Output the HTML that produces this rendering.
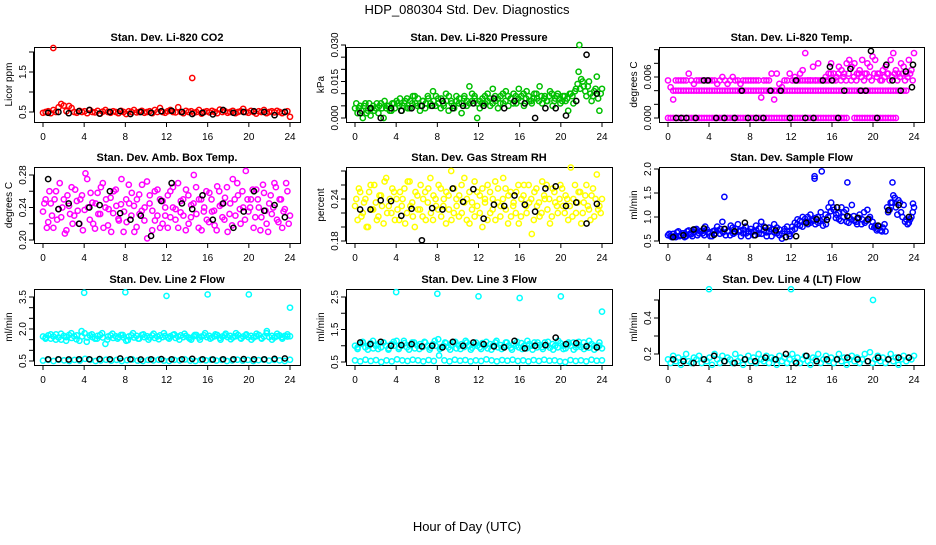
<!DOCTYPE html>
<html><head><meta charset="utf-8"><style>
html,body{margin:0;padding:0;background:#fff;}
svg text{font-family:"Liberation Sans",sans-serif;}
</style></head><body>
<svg id="chart" width="936" height="540" viewBox="0 0 936 540" xmlns="http://www.w3.org/2000/svg">
<rect width="936" height="540" fill="#fff"/>
<text x="467" y="14" text-anchor="middle" font-size="13">HDP_080304  Std. Dev. Diagnostics</text>
<text x="467" y="531" text-anchor="middle" font-size="13">Hour of Day (UTC)</text>
</svg>
<script>
const xTicks = [0,4,8,12,16,20,24];

const co2Red = [0.48,0.5,0.52,0.47,0.55,0.5,0.62,0.7,0.66,0.52,0.65,0.6,0.5,0.48,0.53,0.5,
0.52,0.47,0.55,0.5,0.49,0.53,0.46,0.51,0.55,0.5,0.48,0.52,0.5,0.47,0.53,0.5,
0.45,0.52,0.5,0.55,0.49,0.5,0.53,0.48,0.5,0.52,0.47,0.55,0.5,0.6,0.5,0.48,
0.52,0.55,0.5,0.49,0.62,0.5,0.47,0.53,0.5,0.52,0.48,0.5,0.55,0.46,0.5,0.52,
0.49,0.53,0.5,0.47,0.56,0.5,0.52,0.48,0.5,0.53,0.47,0.5,0.52,0.58,0.5,0.48,
0.53,0.5,0.46,0.52,0.5,0.55,0.47,0.5,0.52,0.49,0.53,0.5,0.47,0.5,0.52,0.38];
const co2RedOutX = [1.0,14.5];
const co2RedOutY = [2.1,1.35];
const co2Black = [0.48,0.5,0.47,0.52,0.55,0.46,0.5,0.52,0.45,0.5,0.48,0.52,0.53,0.5,0.45,0.48,0.44,0.55,0.48,0.5,0.52,0.5,0.42,0.5];

const presGreen = [0.004,0.002,0.005,0.0,0.006,0.003,0.001,0.005,0.004,0.002,0.006,0.0,0.004,0.005,0.003,0.006,
0.007,0.005,0.003,0.006,0.008,0.004,0.006,0.009,0.005,0.003,0.007,0.004,0.009,0.006,0.011,0.005,
0.008,0.004,0.006,0.01,0.003,0.007,0.005,0.009,0.006,0.002,0.008,0.005,0.013,0.007,0.009,0.0,
0.004,0.008,0.006,0.01,0.005,0.012,0.007,0.004,0.009,0.006,0.011,0.005,0.008,0.01,0.006,0.012,
0.009,0.005,0.011,0.007,0.006,0.01,0.008,0.013,0.006,0.009,0.007,0.011,0.005,0.008,0.01,0.006,
0.009,0.007,0.003,0.01,0.006,0.012,0.019,0.016,0.013,0.009,0.015,0.007,0.011,0.017,0.003,0.012];
const presGreenB = [0.006,0.004,0.003,0.005,0.002,0.006,0.004,0.003,0.006,0.005,0.004,0.007,0.005,0.003,0.006,0.004,
0.006,0.008,0.005,0.007,0.004,0.007,0.009,0.006,0.008,0.005,0.007,0.006,0.008,0.005,0.007,0.009,
0.006,0.008,0.005,0.007,0.009,0.006,0.004,0.007,0.008,0.006,0.009,0.007,0.006,0.01,0.008,0.006,
0.007,0.006,0.009,0.007,0.008,0.006,0.009,0.008,0.006,0.01,0.007,0.009,0.008,0.006,0.009,0.008,
0.007,0.01,0.008,0.009,0.007,0.008,0.01,0.007,0.009,0.008,0.007,0.009,0.01,0.007,0.009,0.008,
0.007,0.009,0.008,0.01,0.009,0.011,0.014,0.012,0.015,0.011,0.013,0.01,0.009,0.012,0.008,0.01];
const presOutX = [21.8];
const presOutY = [0.030];
const presBlack = [0.002,0.004,0.0,0.004,0.003,0.004,0.005,0.005,0.007,0.004,0.005,0.006,0.005,0.008,0.004,0.007,0.006,0.0,0.004,0.004,0.001,0.007,0.026,0.01];

const tempLow = [0,0,0,0,0,0,0,0,0,0,0,0,0,0,0,0,0,0,0,0,0,0,0,0,0,0,0,0,0,0,0,0,
0,0,0,0,0,0,0,0,0,0,0,0,0,0,0,0,0,0,0,0,0,0,0,0,0,0,0,0,0,0,0,0,
0,0,0,0,0,0,null,null,0,0,0,0,0,0,0,0,0,0,0,0,0,0,0,0,0,null,null,null,null,null,null,null];
const tempMid = [null,null,0.004,0.004,0.004,0.004,0.004,0.004,0.004,0.004,0.004,0.004,0.004,0.004,0.004,0.004,
0.004,0.004,0.004,0.004,0.004,0.004,0.004,0.004,0.004,0.004,0.004,0.004,0.004,0.004,0.004,0.004,
0.004,0.004,0.004,0.004,0.004,0.004,0.004,0.004,0.004,0.004,0.004,0.004,0.004,0.004,0.004,0.004,
0.004,0.004,0.004,0.004,0.004,0.004,0.004,0.004,0.004,0.004,0.004,0.004,0.004,0.004,0.004,0.004,
0.004,0.004,0.004,0.004,0.004,0.004,0.004,0.004,0.004,0.004,0.004,0.004,0.004,0.004,0.004,0.004,
0.004,0.004,0.004,0.004,0.004,0.004,0.004,0.004,0.004,0.004,0.004,0.004,0.004,null,null,null];
const tempHigh = [0.0055,0.0045,0.0027,0.0055,0.0055,0.0055,0.0055,0.0055,0.0065,0.0055,0.005,0.0055,0.0055,0.0055,0.0055,0.0055,
0.0055,0.0055,0.0055,0.005,0.0055,0.006,0.0055,0.005,0.0055,0.006,0.0055,0.0055,0.005,0.0055,0.0055,0.0055,
0.0055,0.0055,0.0055,0.0055,0.003,0.0055,0.0055,0.0055,0.0065,0.0027,0.0065,0.005,0.0045,0.0055,0.0055,0.0065,
0.0055,0.006,0.0055,0.0065,0.007,0.0095,0.0055,0.0055,0.0075,0.0055,0.008,0.0055,0.0055,0.0055,0.0065,0.008,
0.0065,0.006,0.0075,0.007,0.0065,0.008,0.0085,0.0075,0.008,0.0065,0.007,0.0085,0.0065,0.008,0.0075,0.009,
0.0085,0.0065,0.0055,0.007,0.0075,0.0065,0.0085,0.0095,0.007,0.0065,0.008,0.0075,0.0065,0.0085,0.007,0.0095];
const tempHigh2 = [null,null,null,null,null,null,null,null,null,null,null,null,null,null,null,null,
null,null,null,null,null,null,null,null,null,null,null,null,null,null,null,null,
null,null,null,null,null,null,null,null,null,null,null,null,null,null,null,null,
0.0055,0.0055,0.0055,0.0055,0.0055,0.0055,0.0055,0.0055,0.0055,0.0055,0.0055,0.0055,0.0055,0.006,0.0055,0.0065,
0.0055,0.0055,0.0065,0.0055,0.006,0.0055,0.0065,0.0055,0.006,0.0055,0.0065,0.006,0.0055,0.0065,0.006,0.0055,
0.0065,0.006,0.0065,0.0055,0.006,0.0065,0.0055,0.006,0.0065,0.0055,0.006,0.0065,0.0055,0.006,0.0065,0.0055];
const tempBlackX = [0.8,1.3,1.8,2.7,3.5,3.9,4.7,5.5,6.5,7.2,7.8,8.6,9.3,10.0,11.0,11.9,12.5,13.4,14.2,15.1,15.8,16.0,16.6,17.2,17.8,18.8,19.3,19.8,20.4,21.3,21.9,22.7,23.2,23.8,23.9];
const tempBlackY = [0,0,0,0,0.0055,0.0055,0,0,0,0.004,0,0,0,0.004,0.004,0,0.0055,0,0,0.0055,0.0075,0.0055,0,0.004,0.0072,0.004,0.004,0.0098,0,0.0078,0.0055,0.004,0.0068,0.0045,0.0078];

const ambA = [0.235,0.25,0.222,0.245,0.215,0.26,0.238,0.228,0.25,0.212,0.242,0.265,0.23,0.248,0.22,0.255,
0.237,0.275,0.225,0.246,0.214,0.258,0.232,0.27,0.24,0.218,0.252,0.233,0.262,0.226,0.244,0.21,
0.25,0.268,0.23,0.242,0.216,0.256,0.236,0.224,0.272,0.245,0.212,0.26,0.23,0.25,0.22,0.24,
0.255,0.228,0.265,0.238,0.215,0.248,0.23,0.262,0.22,0.243,0.28,0.232,0.25,0.212,0.24,0.225,
0.258,0.235,0.218,0.266,0.242,0.228,0.252,0.21,0.245,0.275,0.23,0.255,0.22,0.24,0.285,0.235,
0.25,0.215,0.262,0.24,0.228,0.258,0.22,0.245,0.232,0.27,0.225,0.25,0.215,0.238,0.26,0.23];
const ambB = [0.245,0.215,0.26,0.23,0.25,0.225,0.27,0.24,0.208,0.255,0.232,0.22,0.262,0.236,0.25,0.212,
0.282,0.24,0.258,0.22,0.245,0.232,0.265,0.215,0.25,0.238,0.21,0.26,0.242,0.224,0.275,0.235,
0.222,0.245,0.258,0.21,0.25,0.232,0.268,0.24,0.202,0.255,0.236,0.224,0.262,0.215,0.248,0.23,
0.215,0.26,0.24,0.225,0.27,0.234,0.25,0.212,0.255,0.228,0.245,0.265,0.215,0.25,0.235,0.26,
0.222,0.25,0.236,0.212,0.26,0.244,0.225,0.265,0.232,0.218,0.25,0.27,0.238,0.26,0.225,0.25,
0.24,0.262,0.228,0.25,0.212,0.268,0.236,0.21,0.255,0.24,0.265,0.222,0.25,0.235,0.27,0.22];
const ambBlack = [0.275,0.238,0.245,0.22,0.24,0.243,0.26,0.233,0.225,0.23,0.205,0.248,0.27,0.245,0.238,0.255,0.225,0.245,0.215,0.235,0.26,0.236,0.243,0.228];

const rhA = [0.23,0.21,0.25,0.22,0.24,0.2,0.26,0.225,0.235,0.215,0.245,0.205,0.27,0.23,0.22,0.25,
0.24,0.21,0.23,0.255,0.22,0.265,0.235,0.2,0.245,0.225,0.215,0.25,0.235,0.27,0.21,0.24,
0.225,0.255,0.23,0.205,0.245,0.28,0.22,0.24,0.215,0.26,0.235,0.21,0.25,0.225,0.265,0.23,
0.245,0.2,0.235,0.26,0.22,0.24,0.21,0.255,0.23,0.27,0.225,0.245,0.215,0.235,0.25,0.205,
0.24,0.26,0.22,0.235,0.19,0.25,0.23,0.215,0.265,0.24,0.225,0.205,0.255,0.235,0.22,0.26,
0.23,0.245,0.21,0.285,0.24,0.22,0.25,0.205,0.235,0.26,0.225,0.245,0.215,0.275,0.23,0.24];
const rhB = [0.24,0.255,0.215,0.235,0.2,0.25,0.225,0.26,0.21,0.245,0.23,0.265,0.22,0.24,0.255,0.21,
0.225,0.25,0.24,0.205,0.265,0.23,0.215,0.25,0.225,0.26,0.24,0.21,0.255,0.22,0.245,0.23,
0.26,0.215,0.24,0.25,0.225,0.21,0.255,0.23,0.245,0.22,0.27,0.24,0.205,0.235,0.215,0.25,
0.22,0.255,0.24,0.21,0.25,0.225,0.265,0.235,0.215,0.24,0.255,0.205,0.25,0.23,0.22,0.26,
0.215,0.245,0.23,0.26,0.24,0.21,0.255,0.235,0.22,0.245,0.26,0.24,0.215,0.25,0.23,0.24,
0.255,0.22,0.24,0.23,0.215,0.26,0.235,0.25,0.22,0.245,0.23,0.21,0.255,0.24,0.225,0.22];
const rhBlack = [0.225,0.225,0.238,0.237,0.216,0.226,0.181,0.227,0.225,0.255,0.236,0.254,0.212,0.232,0.23,0.245,0.232,0.222,0.255,0.258,0.23,0.235,0.205,0.233];

const sfA = [0.62,0.6,0.65,0.58,0.7,0.62,0.66,0.6,0.72,0.64,0.68,0.75,0.66,0.7,0.62,0.74,
0.68,0.6,0.72,0.8,0.65,0.9,0.75,0.7,0.62,0.78,0.68,0.85,0.72,0.66,0.8,0.6,
0.75,0.7,0.82,0.65,0.9,0.72,0.68,0.78,0.6,0.85,0.66,0.74,0.55,0.7,0.8,0.65,
0.72,0.88,0.95,0.82,1.0,0.9,0.85,1.05,0.92,0.98,0.88,1.1,0.95,0.85,1.2,1.3,
1.15,1.05,0.95,1.2,1.1,0.9,1.0,1.25,0.92,0.85,1.05,0.95,0.88,1.15,1.0,0.9,
0.82,0.75,0.72,0.78,0.7,1.1,1.3,1.45,1.2,1.35,1.1,1.25,0.95,0.88,1.0,1.2];
const sfB = [0.65,0.58,0.6,0.68,0.6,0.66,0.58,0.7,0.65,0.6,0.74,0.62,0.7,0.66,0.8,0.68,
0.6,0.7,0.66,0.72,0.75,0.68,0.62,0.7,0.82,0.65,0.75,0.7,0.6,0.74,0.66,0.7,
0.68,0.62,0.72,0.76,0.65,0.8,0.6,0.7,0.74,0.68,0.78,0.62,0.66,0.75,0.7,0.6,
0.8,0.75,0.85,0.92,0.8,0.96,1.0,0.88,0.95,0.85,1.0,0.92,0.82,1.05,1.0,1.12,
1.2,0.98,1.08,0.92,1.0,1.15,0.88,0.95,1.02,0.9,0.98,0.85,1.1,0.92,0.96,0.8,
0.78,0.72,0.8,0.7,0.85,1.2,1.15,1.3,1.4,1.05,1.3,1.0,0.9,0.85,0.95,1.1];
const sfOutX = [5.5,14.3,14.3,15.0,17.5,21.9,23.9];
const sfOutY = [1.42,1.8,1.85,1.95,1.72,1.72,1.28];
const sfBlack = [0.58,0.62,0.74,0.76,0.63,0.75,0.7,0.88,0.62,0.78,0.72,0.58,0.6,0.88,0.95,0.94,1.2,1.02,0.98,0.95,0.82,1.14,1.25,1.0];

const l2Up = [1.65,1.6,1.7,1.55,1.65,1.75,1.6,1.5,1.68,1.62,1.72,1.58,1.66,1.7,1.45,1.65,
1.8,1.6,1.7,1.62,1.55,1.68,1.72,1.6,1.3,1.65,1.7,1.58,1.66,1.62,1.72,1.6,
1.45,1.65,1.7,1.6,1.68,1.55,1.72,1.62,1.66,1.6,1.7,1.58,1.65,1.7,1.62,1.68,
1.6,1.66,1.72,1.58,1.65,1.7,1.62,1.68,1.6,1.5,1.66,1.72,1.6,1.65,1.7,1.62,
1.68,1.6,1.66,1.72,1.58,1.65,1.7,1.62,1.68,1.6,1.66,1.72,1.58,1.65,1.7,1.62,
1.68,1.6,1.66,1.72,1.58,1.65,1.8,1.62,1.68,1.6,1.66,1.7,1.62,1.68,1.65,1.66];
const l2UpB = [1.55,1.75,1.5,1.78,1.45,1.8,1.52,1.9,1.4,1.75,1.55,1.8,1.5,1.78,1.55,1.72,
1.48,1.8,1.55,1.75,1.5,1.78,1.52,1.8,1.55,1.75,1.5,1.78,1.55,1.72,1.5,1.8,
1.55,1.75,1.5,1.78,1.52,1.8,1.55,1.75,1.5,1.78,1.55,1.9,1.5,1.78,1.55,1.75];
const l2Low = [0.52,0.55,0.5,0.56,0.53,0.5,0.55,0.52,0.6,0.55,0.5,0.53,0.56,0.52,0.55,0.5,
0.54,0.57,0.52,0.5,0.55,0.53,0.56,0.52,0.5,0.55,0.53,0.57,0.52,0.5,0.55,0.53,
0.56,0.52,0.55,0.5,0.53,0.56,0.52,0.55,0.5,0.54,0.56,0.52,0.55,0.53,0.5,0.56];
const l2OutX = [4,8,12,16,20,24];
const l2OutY = [3.7,3.72,3.55,3.62,3.62,3.0];
const l2Black = [0.58,0.58,0.57,0.58,0.58,0.59,0.58,0.62,0.58,0.57,0.58,0.59,0.58,0.58,0.6,0.58,0.57,0.58,0.58,0.59,0.58,0.58,0.6,0.62];

const l3Up = [1.0,0.95,1.05,1.1,0.95,1.0,1.08,0.92,1.0,1.05,0.95,1.1,1.0,0.92,1.05,1.0,
1.15,0.95,1.0,1.08,0.95,1.02,1.1,0.92,1.0,1.05,0.96,1.1,1.0,0.94,1.05,1.0,
1.2,0.95,1.0,1.08,0.95,1.02,1.1,0.92,1.0,1.05,0.96,1.1,1.0,0.94,1.05,1.0,
0.95,1.08,1.0,0.92,1.05,1.0,1.1,0.95,1.02,0.96,1.1,1.0,0.94,1.05,1.0,0.95,
1.08,1.0,0.92,1.05,1.0,1.1,0.95,1.02,0.96,1.1,1.0,0.94,1.05,1.0,0.95,1.08,
1.0,0.92,1.05,1.0,1.1,0.95,1.02,0.96,1.1,1.0,0.94,1.05,1.0,0.95,1.0,0.92];
const l3UpB = [0.9,1.12,0.88,1.15,0.9,1.1,0.88,1.12,0.9,1.15,0.88,1.1,0.9,1.12,0.88,1.15,
0.9,1.1,0.88,1.12,0.9,1.15,0.88,1.1,0.9,1.12,0.88,1.15,0.9,1.1,0.88,1.12,
0.9,1.15,0.88,1.1,0.9,1.12,0.88,1.15,0.9,1.1,0.88,1.12,0.9,1.15,0.88,1.1];
const l3Low = [0.55,0.52,0.57,0.53,0.56,0.5,0.55,0.52,0.58,0.55,0.53,0.57,0.55,0.52,0.56,0.53,
0.7,0.55,0.52,0.57,0.54,0.56,0.52,0.55,0.53,0.58,0.55,0.52,0.56,0.54,0.57,0.53,
0.55,0.52,0.56,0.53,0.57,0.54,0.55,0.52,0.5,0.56,0.53,0.55,0.52,0.57,0.54,0.55];
const l3OutX = [4,8,12,16,20,24];
const l3OutY = [2.65,2.6,2.52,2.47,2.52,2.05];
const l3Black = [1.1,1.05,1.12,1.0,1.02,1.05,0.98,1.0,0.95,1.12,1.0,1.1,1.05,0.98,0.95,1.15,0.92,1.0,1.02,1.25,1.05,1.08,0.98,0.95];

const l4Cy = [0.17,0.15,0.19,0.16,0.18,0.14,0.17,0.2,0.16,0.15,0.18,0.17,0.19,0.15,0.17,0.16,
0.18,0.14,0.2,0.17,0.15,0.19,0.16,0.18,0.17,0.15,0.2,0.16,0.18,0.14,0.17,0.19,
0.16,0.18,0.15,0.2,0.17,0.16,0.19,0.15,0.18,0.17,0.14,0.19,0.16,0.18,0.15,0.17,
0.2,0.16,0.18,0.15,0.17,0.19,0.16,0.14,0.18,0.17,0.2,0.15,0.17,0.19,0.16,0.18,
0.15,0.17,0.2,0.16,0.18,0.14,0.17,0.19,0.16,0.18,0.15,0.17,0.2,0.16,0.21,0.15,
0.17,0.19,0.16,0.18,0.15,0.17,0.2,0.16,0.18,0.14,0.17,0.19,0.16,0.18,0.17,0.19];
const l4OutX = [4,12,20];
const l4OutY = [0.56,0.56,0.5];
const l4Black = [0.17,0.16,0.15,0.17,0.19,0.16,0.15,0.17,0.16,0.18,0.17,0.2,0.15,0.19,0.16,0.17,0.17,0.18,0.17,0.16,0.18,0.17,0.18,0.18];

const NS = 'http://www.w3.org/2000/svg';
const svg = document.getElementById('chart');
const cols = [[34,300],[346,612],[659,924]];
const rows = [[47,122],[167,243],[289,365]];

function mk(tag, attrs, parent){
  const e = document.createElementNS(NS, tag);
  for (const k in attrs) e.setAttribute(k, attrs[k]);
  (parent||svg).appendChild(e);
  return e;
}

function makePanel(c, r, title, ylab, ref, ticks, labels, nameKey){
  const [L,R] = cols[c]; const [T,B] = rows[r];
  const g = mk('g', {});
  
  
  const x = h => (L+9) + (R-10-(L+9)) * h / 24;
  const y = v => ref[1] + (v - ref[0]) * (ref[3]-ref[1]) / (ref[2]-ref[0]);
  const t = mk('text', {x:(L+R)/2, y:T-6, 'text-anchor':'middle', 'font-size':'11', 'font-weight':'bold'}, g);
  t.textContent = title;
  
  
  const yl = mk('text', {x:0, y:0, transform:`translate(${L-22},${(T+B)/2}) rotate(-90)`, 'text-anchor':'middle', 'font-size':'10'}, g);
  yl.textContent = ylab;
  
  
  const ax = mk('g', {stroke:'#000','stroke-width':'1'}, g);
  
  
  mk('line', {x1:x(0), x2:x(24), y1:B+0.5, y2:B+0.5}, ax);
  xTicks.forEach(h => {
    mk('line', {x1:x(h), x2:x(h), y1:B, y2:B+5}, ax);
    const tl = mk('text', {x:x(h), y:B+18, 'text-anchor':'middle', 'font-size':'10', stroke:'none'}, ax);
    tl.textContent = h;
    
    
  });
  const ay = mk('g', {stroke:'#000','stroke-width':'1'}, g);
  
  
  mk('line', {x1:L-0.5, x2:L-0.5, y1:y(ticks[0]), y2:y(ticks[ticks.length-1])}, ay);
  ticks.forEach(v => mk('line', {x1:L-5, x2:L, y1:y(v), y2:y(v)}, ay));
  labels.forEach(s => {
    const yy = y(parseFloat(s));
    const tl = mk('text', {x:0, y:0, transform:`translate(${L-8},${yy}) rotate(-90)`, 'text-anchor':'middle', 'font-size':'10', stroke:'none'}, ay);
    tl.textContent = s;
    
    
  });
  const box = mk('rect', {x:L+0.5, y:T+0.5, width:R-L, height:B-T, fill:'none', stroke:'#000'}, g);
  
  
  const pts = mk('g', {fill:'none','stroke-width':'1.5'}, g);
  
  
  return {x, y, pts};
}

function series(p, xs, ys, color, name){
  const g = mk('g', {stroke: color}, p.pts);
  
  
  ys.forEach((v, i) => {
    if (v === null) return;
    const c = mk('circle', {cx:p.x(xs[i]), cy:p.y(v), r:2.6}, g);
    
    
  });
}
const q = arr => arr.map((_, i) => i * 24 / (arr.length - 1));
const qo = arr => arr.map((_, i) => (i + 0.5) * 24 / arr.length);

let p;
p = makePanel(0,0,'Stan. Dev. Li-820 CO2','Licor ppm',[0.5,112,1.5,72],[0.5,1,1.5,2],['0.5','1.5'],'co2');
series(p, q(co2Red), co2Red, '#ff0000', 'co2-series');
series(p, co2RedOutX, co2RedOutY, '#ff0000', 'co2-outliers');
series(p, qo(co2Black), co2Black, '#000', 'co2-hourly-series');

p = makePanel(1,0,'Stan. Dev. Li-820 Pressure','kPa',[0,118,0.03,45],[0,0.005,0.01,0.015,0.02,0.025,0.03],['0.000','0.015','0.030'],'pressure');
series(p, q(presGreen), presGreen, '#00c000', 'pressure-series');
series(p, qo(presGreenB), presGreenB, '#00c000', 'pressure-series-b');
series(p, presOutX, presOutY, '#00c000', 'pressure-outliers');
series(p, qo(presBlack), presBlack, '#000', 'pressure-hourly-series');

p = makePanel(2,0,'Stan. Dev. Li-820 Temp.','degrees C',[0,118,0.006,77],[0,0.002,0.004,0.006,0.008,0.01],['0.000','0.006'],'licor-temp');
series(p, q(tempLow), tempLow, '#ff00ff', 'licor-temp-series-zero');
series(p, q(tempMid), tempMid, '#ff00ff', 'licor-temp-series-mid');
series(p, q(tempHigh), tempHigh, '#ff00ff', 'licor-temp-series-high');
series(p, qo(tempHigh2), tempHigh2, '#ff00ff', 'licor-temp-series-high-b');
series(p, tempBlackX, tempBlackY, '#000', 'licor-temp-hourly-series');

p = makePanel(0,1,'Stan. Dev. Amb. Box Temp.','degrees C',[0.2,240,0.28,175],[0.2,0.22,0.24,0.26,0.28],['0.20','0.24','0.28'],'box-temp');
series(p, q(ambA), ambA, '#ff00ff', 'box-temp-series');
series(p, qo(ambB), ambB, '#ff00ff', 'box-temp-series-b');
series(p, qo(ambBlack), ambBlack, '#000', 'box-temp-hourly-series');

p = makePanel(1,1,'Stan. Dev. Gas Stream RH','percent',[0.18,241,0.24,199],[0.18,0.2,0.22,0.24,0.26,0.28],['0.18','0.24'],'rh');
series(p, q(rhA), rhA, '#ffff00', 'rh-series');
series(p, qo(rhB), rhB, '#ffff00', 'rh-series-b');
series(p, qo(rhBlack), rhBlack, '#000', 'rh-hourly-series');

p = makePanel(2,1,'Stan. Dev. Sample Flow','ml/min',[0.5,241,2.0,169],[0.5,1,1.5,2],['0.5','1.0','1.5','2.0'],'sample-flow');
series(p, q(sfA), sfA, '#0000ff', 'sample-flow-series');
series(p, qo(sfB), sfB, '#0000ff', 'sample-flow-series-b');
series(p, sfOutX, sfOutY, '#0000ff', 'sample-flow-outliers');
series(p, qo(sfBlack), sfBlack, '#000', 'sample-flow-hourly-series');

p = makePanel(0,2,'Stan. Dev. Line 2 Flow','ml/min',[0.5,361,3.5,297],[0.5,1,1.5,2,2.5,3,3.5],['0.5','2.0','3.5'],'line2');
series(p, q(l2Up), l2Up, '#00ffff', 'line2-upper-series');
series(p, qo(l2UpB), l2UpB, '#00ffff', 'line2-upper-series-b');
series(p, q(l2Low), l2Low, '#00ffff', 'line2-lower-series');
series(p, l2OutX, l2OutY, '#00ffff', 'line2-outliers');
series(p, qo(l2Black), l2Black, '#000', 'line2-hourly-series');

p = makePanel(1,2,'Stan. Dev. Line 3 Flow','ml/min',[0.5,362,2.5,297],[0.5,1,1.5,2,2.5],['0.5','1.5','2.5'],'line3');
series(p, q(l3Up), l3Up, '#00ffff', 'line3-upper-series');
series(p, qo(l3UpB), l3UpB, '#00ffff', 'line3-upper-series-b');
series(p, q(l3Low), l3Low, '#00ffff', 'line3-lower-series');
series(p, l3OutX, l3OutY, '#00ffff', 'line3-outliers');
series(p, qo(l3Black), l3Black, '#000', 'line3-hourly-series');

p = makePanel(2,2,'Stan. Dev. Line 4 (LT) Flow','ml/min',[0.2,354,0.4,318],[0.2,0.3,0.4,0.5],['0.2','0.4'],'line4');
series(p, q(l4Cy), l4Cy, '#00ffff', 'line4-series');
series(p, l4OutX, l4OutY, '#00ffff', 'line4-outliers');
series(p, qo(l4Black), l4Black, '#000', 'line4-hourly-series');
</script>
</body></html>
